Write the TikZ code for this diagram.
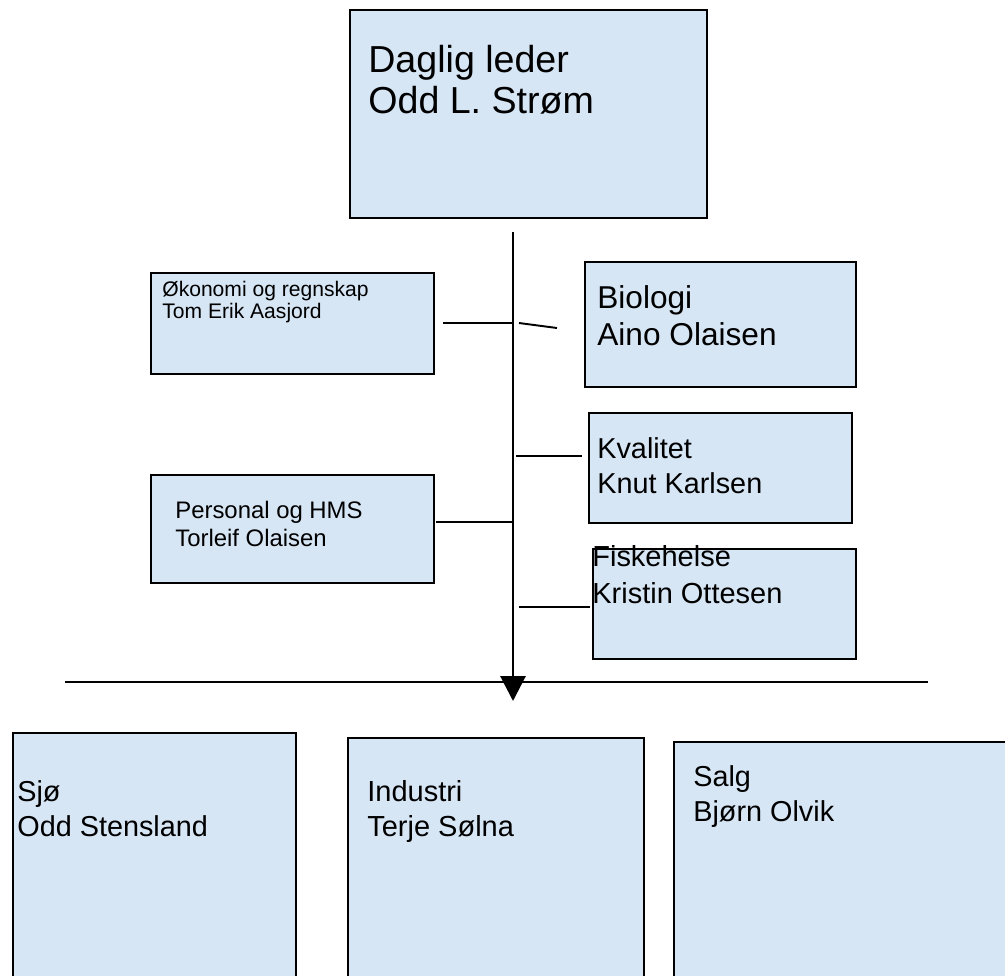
\documentclass[tikz,border=0pt]{standalone}
\usepackage{fontspec}
\setmainfont{Liberation Sans}
\usetikzlibrary{arrows.meta}
\definecolor{boxblue}{RGB}{215,230,245}
\tikzset{
  orgbox/.style={draw,fill=boxblue,line width=1.1pt,rectangle,inner sep=0pt,anchor=north west},
  orgtext/.style={anchor=base west,align=left,inner sep=0pt},
  link/.style={line width=1.1pt},
}
\newcommand{\fs}[2]{\fontsize{#1}{#2}\selectfont}

\begin{document}
\begin{tikzpicture}[x=0.02cm,y=-0.02cm]
        \clip (0,0) rectangle (1005,975);
        %% Boss
        \node[orgbox,minimum width=7.14cm,minimum height=4.16cm] (dl) at (349,9) {};
        \node[orgtext,font=\fs{21.4pt}{22.8pt}] (dl-txt) at (368,113) {Daglig leder\\Odd L. Strøm};
        %% Staff, left
        \node[orgbox,minimum width=5.66cm,minimum height=2.02cm] (oko) at (150,272) {};
        \node[orgtext,font=\fs{12pt}{12pt}] (oko-txt) at (162,318) {Økonomi og regnskap\\Tom Erik Aasjord};
        \node[orgbox,minimum width=5.66cm,minimum height=2.16cm] (pers) at (150,474) {};
        \node[orgtext,font=\fs{13.6pt}{15.9pt}] (pers-txt) at (175,546) {Personal og HMS\\Torleif Olaisen};
        %% Staff, right
        \node[orgbox,minimum width=5.42cm,minimum height=2.50cm] (bio) at (584,261) {};
        \node[orgtext,font=\fs{18pt}{20.5pt}] (bio-txt) at (597,345) {Biologi\\Aino Olaisen};
        \node[orgbox,minimum width=5.26cm,minimum height=2.20cm] (kval) at (588,412) {};
        \node[orgtext,font=\fs{16.4pt}{19.4pt}] (kval-txt) at (597,493) {Kvalitet\\Knut Karlsen};
        \node[orgbox,minimum width=5.26cm,minimum height=2.20cm] (fisk) at (592,548) {};
        \node[orgtext,font=\fs{16.5pt}{20.5pt}] (fisk-txt) at (592,603) {Fiskehelse\\Kristin Ottesen};
        %% Departments
        \node[orgbox,minimum width=5.66cm,minimum height=5cm] (sjo) at (12,732) {};
        \node[orgtext,font=\fs{16.4pt}{19.4pt}] (sjo-txt) at (17,836) {Sjø\\Odd Stensland};
        \node[orgbox,minimum width=5.92cm,minimum height=5cm] (ind) at (347,737) {};
        \node[orgtext,font=\fs{16.5pt}{19.4pt}] (ind-txt) at (367,836) {Industri\\Terje Sølna};
        \node[orgbox,minimum width=6.8cm,minimum height=5cm] (salg) at (673,741) {};
        \node[orgtext,font=\fs{16.4pt}{19.4pt}] (salg-txt) at (693,821) {Salg\\Bjørn Olvik};
        %% Spine and branches
        \coordinate (sp-top) at (513,232);
        \coordinate (sp-tip) at (513,701);
        \coordinate (bar-l) at (65,682);
        \coordinate (bar-r) at (928,682);
        \coordinate (oko-a) at (443,323);
        \coordinate (sp-oko) at (513,323);
        \coordinate (sp-bio) at (519,323);
        \coordinate (bio-a) at (557,328);
        \coordinate (sp-kval) at (516,456);
        \coordinate (kval-a) at (582,456);
        \coordinate (pers-a) at (436,522);
        \coordinate (sp-pers) at (513,522);
        \coordinate (sp-fisk) at (519,607);
        \coordinate (fisk-a) at (590,607);
        \draw[link] (bar-l) -- (bar-r);
        \draw[link] (oko-a) -- (sp-oko);
        \draw[link] (sp-bio) -- (bio-a);
        \draw[link] (sp-kval) -- (kval-a);
        \draw[link] (pers-a) -- (sp-pers);
        \draw[link] (sp-fisk) -- (fisk-a);
        \draw[line width=1.7pt,-{Triangle[width=0.5cm,length=0.5cm]}] (sp-top) -- (sp-tip);
\end{tikzpicture}
\end{document}
